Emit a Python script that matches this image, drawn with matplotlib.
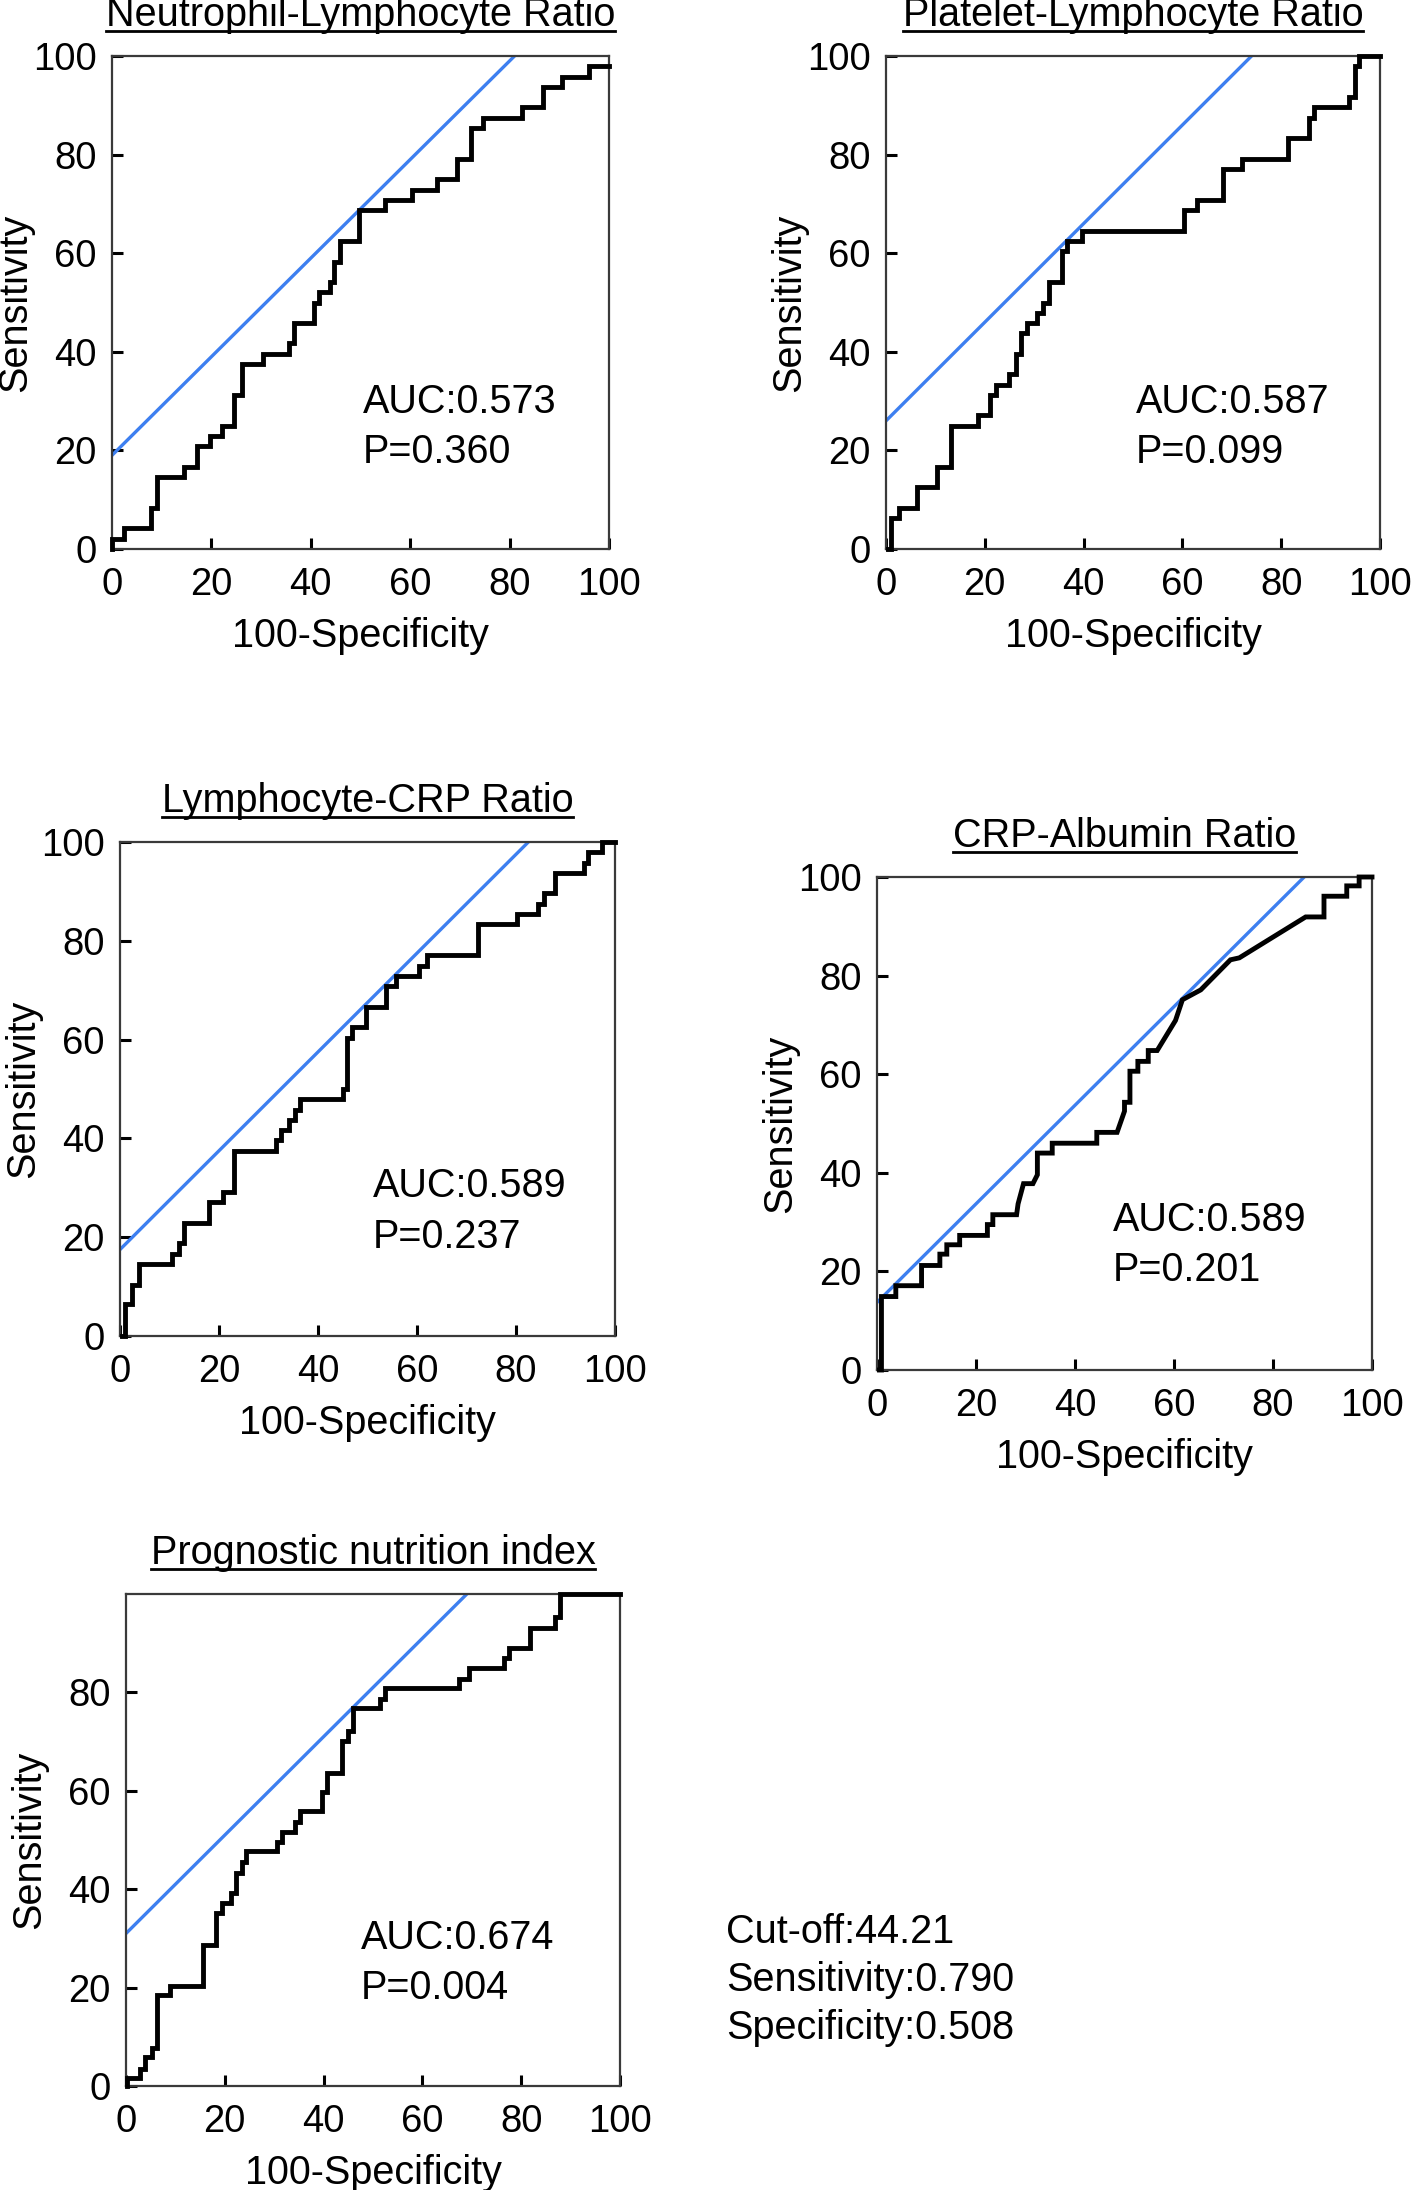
import matplotlib
matplotlib.use('Agg')
import matplotlib.pyplot as plt
from matplotlib.lines import Line2D
import matplotlib.transforms as mtransforms

plt.rcParams['font.family'] = ['Liberation Sans', 'DejaVu Sans']

# ---------------- data ----------------
titles = ['Neutrophil-Lymphocyte Ratio', 'Platelet-Lymphocyte Ratio',
          'Lymphocyte-CRP Ratio', 'CRP-Albumin Ratio', 'Prognostic nutrition index']
auc_labels = ['AUC:0.573', 'AUC:0.587', 'AUC:0.589', 'AUC:0.589', 'AUC:0.674']
p_labels = ['P=0.360', 'P=0.099', 'P=0.237', 'P=0.201', 'P=0.004']
tangent_intercepts = [19.0, 26.0, 17.5, 13.7, 31.0]
cutoff_lines = ['Cut-off:44.21', 'Sensitivity:0.790', 'Specificity:0.508']

# step curves (x of jump, level after jump), drawn with steps-post
nlr_fpr = [0, 0, 2.4, 7.8, 9.0, 14.4, 17.1, 19.8, 22.2, 24.6, 26.1, 30.3, 35.7, 36.6,
           40.6, 41.7, 43.8, 44.7, 45.8, 49.6, 55.0, 60.3, 65.4, 69.4, 72.3, 74.6,
           82.5, 86.7, 90.6, 96.0, 100]
nlr_tpr = [0, 2.1, 4.2, 8.3, 14.6, 16.7, 20.8, 22.9, 25.0, 31.2, 37.5, 39.6, 41.7, 45.8,
           50.0, 52.1, 54.2, 58.3, 62.5, 68.8, 70.8, 72.9, 75.0, 79.2, 85.4, 87.5,
           89.6, 93.8, 95.8, 97.9, 97.9]

plr_fpr = [0.5, 1.1, 2.7, 6.2, 10.3, 13.1, 18.6, 21.1, 22.3, 24.8, 26.3, 27.4, 28.5,
           30.6, 31.8, 32.9, 35.7, 36.6, 39.6, 60.4, 62.9, 68.2, 72.1, 81.4, 85.7,
           86.6, 93.8, 95.0, 95.8, 100]
plr_tpr = [0, 6.2, 8.3, 12.5, 16.7, 25.0, 27.1, 31.2, 33.3, 35.4, 39.6, 43.8, 45.8,
           47.9, 50.0, 54.2, 60.4, 62.5, 64.6, 68.8, 70.8, 77.1, 79.2, 83.3, 87.5,
           89.6, 91.7, 97.9, 100, 100]

lcr_fpr = [0.4, 1.1, 2.4, 3.8, 10.5, 11.9, 12.9, 18.0, 20.9, 23.1, 31.5, 32.6, 34.2,
           35.3, 36.3, 45.1, 45.9, 46.9, 49.6, 53.7, 55.8, 60.4, 62.1, 72.3, 80.2,
           84.5, 85.6, 87.9, 93.7, 94.6, 97.3, 100]
lcr_tpr = [0, 6.4, 10.4, 14.6, 16.7, 18.8, 22.9, 27.1, 29.2, 37.5, 39.6, 41.7, 43.8,
           45.8, 47.9, 50.0, 60.4, 62.5, 66.7, 70.8, 72.9, 75.0, 77.1, 83.3, 85.4,
           87.5, 89.6, 93.8, 95.8, 97.9, 100, 100]

pni_fpr = [0.3, 0.3, 2.9, 3.8, 5.2, 6.3, 9.0, 15.5, 18.2, 19.4, 21.2, 22.3, 23.4, 24.3,
           30.5, 31.5, 34.2, 35.3, 39.6, 40.7, 43.7, 44.9, 45.9, 51.4, 52.4, 67.4,
           69.5, 76.6, 77.5, 81.8, 86.9, 87.8, 100]
pni_tpr = [0, 1.6, 3.5, 5.9, 7.8, 18.4, 20.3, 28.7, 35.2, 37.1, 39.2, 43.2, 45.5, 47.7,
           49.6, 51.6, 53.7, 55.9, 59.7, 63.6, 70.1, 72.1, 76.8, 78.7, 80.9, 82.8,
           84.9, 86.9, 89.1, 93.1, 95.3, 100, 100]

# polyline curve (contains tied segments)
car_fpr = [0.5, 0.9, 0.9, 3.8, 3.8, 9.0, 9.0, 12.7, 12.7, 14.1, 14.1, 16.7, 16.7, 22.3,
           22.3, 23.4, 23.4, 28.2, 28.5, 29.6, 31.5, 32.4, 32.4, 35.4, 35.4, 44.4,
           44.4, 48.5, 50.0, 50.0, 51.1, 51.1, 52.7, 52.7, 54.8, 54.8, 56.6, 60.3,
           61.7, 65.4, 71.4, 73.2, 86.6, 90.3, 90.3, 94.9, 94.9, 97.4, 97.4, 100]
car_tpr = [0, 0, 14.9, 14.9, 17.1, 17.1, 21.2, 21.2, 23.5, 23.5, 25.4, 25.4, 27.3, 27.3,
           29.5, 29.5, 31.5, 31.5, 33.7, 37.8, 37.8, 39.6, 44.0, 44.0, 46.0, 46.0,
           48.2, 48.2, 52.5, 54.3, 54.3, 60.6, 60.6, 62.6, 62.6, 64.8, 64.8, 70.9,
           75.1, 77.1, 83.2, 83.6, 91.9, 91.9, 96.1, 96.1, 98.2, 98.2, 100, 100]

curves = [(nlr_fpr, nlr_tpr, 'steps-post'), (plr_fpr, plr_tpr, 'steps-post'),
          (lcr_fpr, lcr_tpr, 'steps-post'), (car_fpr, car_tpr, 'default'),
          (pni_fpr, pni_tpr, 'steps-post')]

# ---------------- layout ----------------
W, H = 1418, 2190
fig = plt.figure(figsize=(W / 100, H / 100), dpi=100)

# axes boxes in pixels: left, top, right, bottom
boxes = [(112, 56, 609, 549), (886, 56, 1380, 549), (120, 842, 615, 1336),
         (877, 877, 1372, 1370), (126, 1594, 620, 2086)]
text_pos = [(50.4, 29.8), (50.6, 29.8), (51.0, 30.3), (47.6, 30.5), (47.6, 30.1)]
ytick_sets = [[0, 20, 40, 60, 80, 100]] * 4 + [[0, 20, 40, 60, 80]]

BLUE = '#3D7FF0'
TICK_FS = 27.5
TXT_FS = 28.5

title_texts = []
for i, (l, t, r, b) in enumerate(boxes):
    ax = fig.add_axes([l / W, 1 - b / H, (r - l) / W, (b - t) / H])
    ax.set_xlim(0, 100)
    ax.set_ylim(0, 100)
    x, y, ds = curves[i]
    ax.plot(x, y, color='black', lw=3.5, drawstyle=ds, clip_on=False, zorder=3,
            solid_joinstyle='miter')
    c = tangent_intercepts[i]
    ax.plot([0, 100 - c], [c, 100], color=BLUE, lw=2.4, zorder=2)
    ax.set_xticks([0, 20, 40, 60, 80, 100])
    ax.set_yticks(ytick_sets[i])
    ax.tick_params(direction='in', length=8, width=2.2, color='black',
                   labelsize=TICK_FS)
    ax.tick_params(axis='x', pad=13)
    ax.tick_params(axis='y', pad=11)
    for s in ax.spines.values():
        s.set_linewidth(1.6)
        s.set_color('#3a3a3a')
    ax.set_xlabel('100-Specificity', fontsize=TXT_FS, labelpad=10)
    ax.set_ylabel('Sensitivity', fontsize=TXT_FS)
    ax.yaxis.set_label_coords(-0.157, 0.5)
    tx, ty = text_pos[i]
    ax.text(tx, ty, auc_labels[i], fontsize=TXT_FS, va='center', ha='left')
    ax.text(tx, ty - 10.2, p_labels[i], fontsize=TXT_FS, va='center', ha='left')
    off = mtransforms.ScaledTranslation(0, 30 / 100, fig.dpi_scale_trans)
    tt = ax.text(0.5, 1.0, titles[i], transform=ax.transAxes + off,
                 ha='center', va='baseline', fontsize=TXT_FS)
    title_texts.append(tt)

for j, line in enumerate(cutoff_lines):
    fig.text(726 / W, 1 - (1932 + 48 * j) / H, line, fontsize=TXT_FS,
             ha='left', va='center')

# underline the titles
fig.canvas.draw()
renderer = fig.canvas.get_renderer()
inv = fig.transFigure.inverted()
for tt in title_texts:
    bb = tt.get_window_extent(renderer)
    bx, by = tt.get_transform().transform(tt.get_position())
    yl = by - 5
    p0 = inv.transform((bb.x0, yl))
    p1 = inv.transform((bb.x1, yl))
    fig.add_artist(Line2D([p0[0], p1[0]], [p0[1], p1[1]], color='black', lw=2.0,
                          transform=fig.transFigure))

fig.savefig('out.png', dpi=100, facecolor='white')
